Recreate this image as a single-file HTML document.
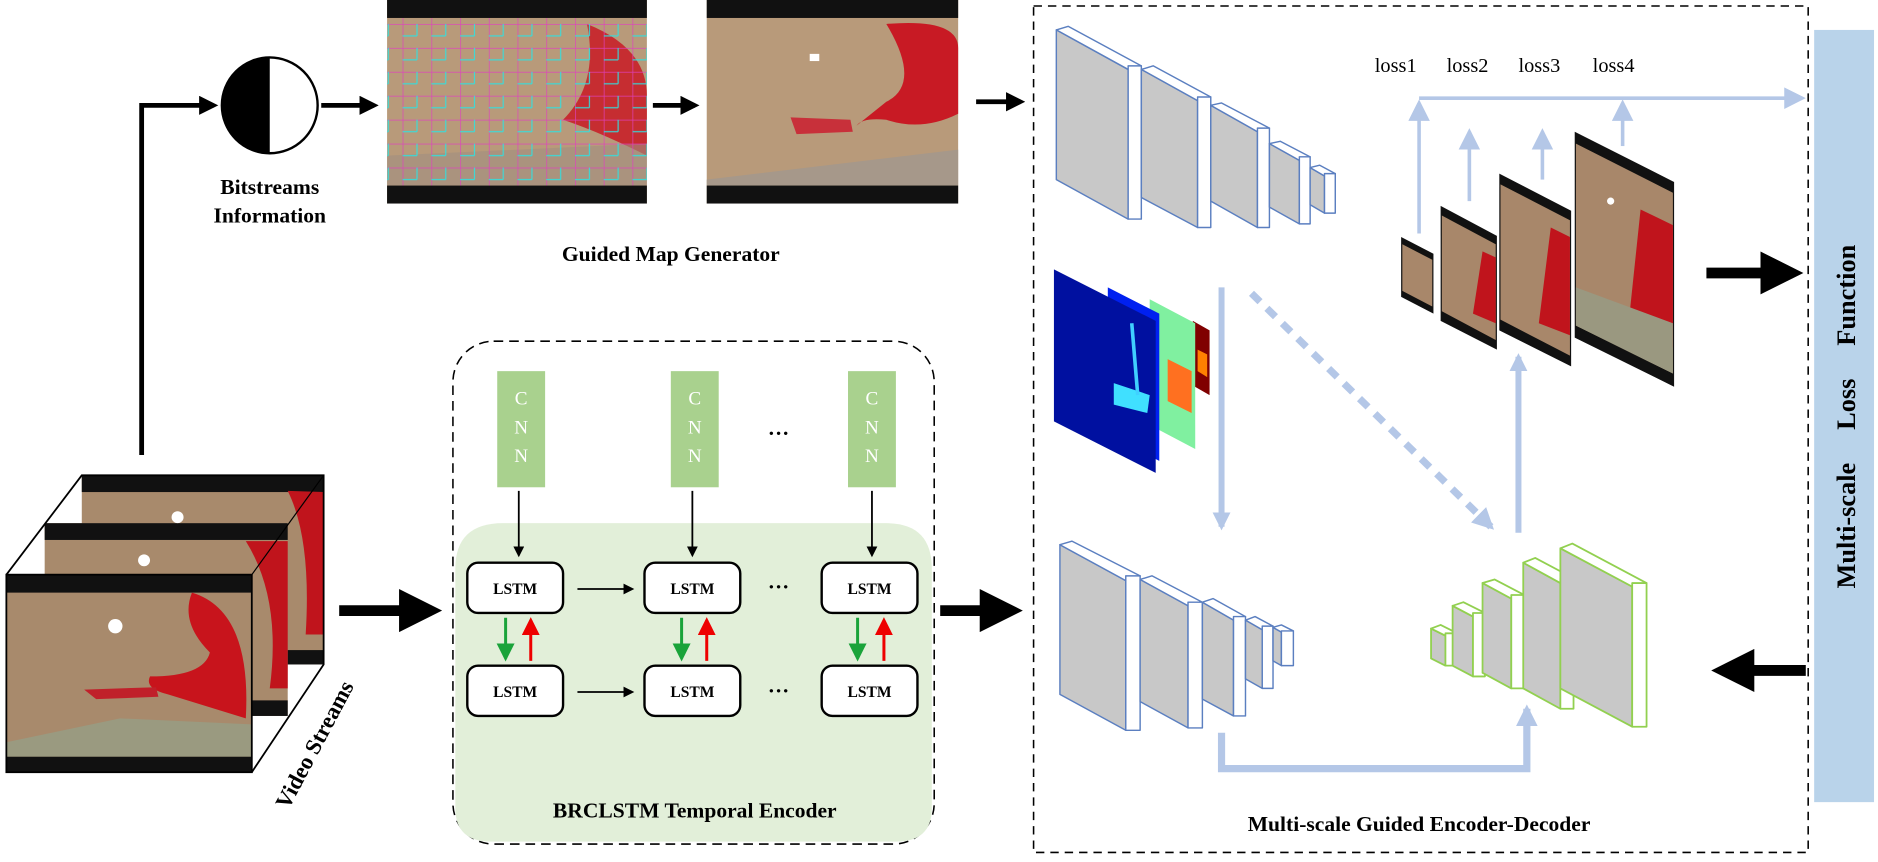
<!DOCTYPE html>
<html><head><meta charset="utf-8"><style>
html,body{margin:0;padding:0;background:#fff;}
svg{display:block;}
text{font-family:"Liberation Serif",serif;}
</style></head><body>
<svg width="1878" height="862" viewBox="0 0 1568 720" xmlns="http://www.w3.org/2000/svg">
<defs>
<marker id="ah" markerWidth="4" markerHeight="4" refX="3" refY="2" orient="auto" markerUnits="strokeWidth"><path d="M0,0 L4,2 L0,4 z" fill="#000"/></marker>
<marker id="ahs" markerWidth="6" markerHeight="6" refX="5" refY="3" orient="auto" markerUnits="strokeWidth"><path d="M0,0 L6,3 L0,6 z" fill="#000"/></marker>
<marker id="ahg" markerWidth="6" markerHeight="6" refX="5" refY="3" orient="auto" markerUnits="strokeWidth"><path d="M0,0 L6,3 L0,6 z" fill="#1aa33a"/></marker>
<marker id="ahr" markerWidth="6" markerHeight="6" refX="5" refY="3" orient="auto" markerUnits="strokeWidth"><path d="M0,0 L6,3 L0,6 z" fill="#e00"/></marker>
<marker id="ahb" markerWidth="3" markerHeight="3" refX="2.4" refY="1.5" orient="auto" markerUnits="strokeWidth"><path d="M0,0 L3,1.5 L0,3 z" fill="#b4c7e7"/></marker>
<marker id="ahb2" markerWidth="6" markerHeight="6" refX="5" refY="3" orient="auto" markerUnits="strokeWidth"><path d="M0,0 L6,3 L0,6 z" fill="#b4c7e7"/></marker>
<pattern id="grid" width="24" height="20" patternUnits="userSpaceOnUse"><path d="M0,0 H24 M0,0 V20" stroke="#e040c0" stroke-width="1.2"/><path d="M12,0 V10 M0,10 H12" stroke="#30e0e0" stroke-width="1"/></pattern>
</defs>

<!-- Video streams -->
<g>
<rect x="68" y="397" width="202" height="158" fill="#a88a6c"/>
<rect x="68" y="397" width="202" height="14" fill="#111"/>
<rect x="68" y="543" width="202" height="12" fill="#111"/>
<path d="M240,410 Q260,450 255,530 L270,530 L270,411 z" fill="#c0141c"/>
<rect x="37" y="437" width="203" height="161" fill="#a88a6c"/>
<rect x="37" y="437" width="203" height="14" fill="#111"/>
<rect x="37" y="585" width="203" height="13" fill="#111"/>
<path d="M205,452 Q235,500 225,575 L240,575 L240,452 z" fill="#c0141c"/>
<circle cx="120" cy="468" r="5" fill="#fff"/>
<circle cx="148" cy="432" r="5" fill="#fff"/>
<rect x="5" y="480" width="205" height="165" fill="#a88a6c"/>
<rect x="5" y="480" width="205" height="15" fill="#111"/>
<rect x="5" y="632" width="205" height="13" fill="#111"/>
<path d="M160,495 Q210,510 205,600 L140,580 Q120,575 125,565 Q170,565 175,545 Q150,520 160,495 z" fill="#c8141c"/>
<path d="M70,576 L130,574 L132,582 L80,584 z" fill="#c0202a"/>
<path d="M5,620 L100,600 L210,605 L210,632 L5,632 z" fill="#9a9a80"/>
<circle cx="96" cy="523" r="6" fill="#fff"/>
<polyline points="5,480 68,397 270,397 270,555 210,645" fill="none" stroke="#000" stroke-width="1.5"/>
<line x1="210" y1="480" x2="270" y2="397" stroke="#000" stroke-width="1"/>
<rect x="5" y="480" width="205" height="165" fill="none" stroke="#000" stroke-width="1.5"/>
<text transform="translate(268,625) rotate(-62)" text-anchor="middle" font-size="19" font-weight="bold">Video Streams</text>
</g>

<!-- bitstream arrow -->
<polyline points="118,380 118,88 178,88" fill="none" stroke="#000" stroke-width="4" marker-end="url(#ah)"/>
<circle cx="225" cy="88" r="40" fill="#fff" stroke="#000" stroke-width="2"/>
<path d="M225,48 A40,40 0 0 0 225,128 z" fill="#000"/>
<text x="225" y="162" text-anchor="middle" font-size="18" font-weight="bold">Bitstreams</text>
<text x="225" y="186" text-anchor="middle" font-size="18" font-weight="bold">Information</text>
<line x1="268" y1="88" x2="312" y2="88" stroke="#000" stroke-width="4" marker-end="url(#ah)"/>

<!-- image 1 -->
<rect x="323" y="0" width="217" height="170" fill="#b89a7a"/>
<path d="M490,20 Q540,40 540,80 L540,130 Q500,110 470,100 Q500,70 490,20 z" fill="#c81a24" opacity="0.85"/>
<path d="M323,130 L540,120 L540,155 L323,155 z" fill="#a09080" opacity="0.6"/>
<rect x="323" y="15" width="217" height="140" fill="url(#grid)" opacity="0.9"/>
<rect x="323" y="0" width="217" height="15" fill="#111"/>
<rect x="323" y="155" width="217" height="15" fill="#111"/>
<line x1="545" y1="88" x2="580" y2="88" stroke="#000" stroke-width="4" marker-end="url(#ah)"/>
<!-- image 2 -->
<rect x="590" y="0" width="210" height="170" fill="#b89a7a"/>
<path d="M740,20 Q800,15 800,40 L800,95 Q770,110 740,100 Q720,98 715,105 L740,85 Q770,70 740,20 z" fill="#c81a24"/>
<path d="M660,98 L710,100 L712,110 L665,112 z" fill="#c8303a"/>
<path d="M590,150 L800,125 L800,155 L590,155 z" fill="#a6988a"/>
<rect x="676" y="45" width="8" height="6" fill="#fff"/>
<rect x="590" y="0" width="210" height="15" fill="#111"/>
<rect x="590" y="155" width="210" height="15" fill="#111"/>
<text x="560" y="218" text-anchor="middle" font-size="18" font-weight="bold">Guided Map Generator</text>
<line x1="815" y1="85" x2="852" y2="85" stroke="#000" stroke-width="4" marker-end="url(#ah)"/>

<!-- BRCLSTM -->
<rect x="378" y="285" width="402" height="420" rx="34" fill="none" stroke="#000" stroke-width="1.3" stroke-dasharray="8,5"/>
<path d="M380,475 Q380,437 420,437 L740,437 Q778,437 778,475 L778,675 Q778,703 748,703 L410,703 Q380,703 380,675 z" fill="#e2efd9"/>
<g font-size="16" fill="#fff" text-anchor="middle">
<rect x="415" y="310" width="40" height="97" fill="#a9d18e"/>
<text x="435" y="338">C</text><text x="435" y="362">N</text><text x="435" y="386">N</text>
<rect x="560" y="310" width="40" height="97" fill="#a9d18e"/>
<text x="580" y="338">C</text><text x="580" y="362">N</text><text x="580" y="386">N</text>
<rect x="708" y="310" width="40" height="97" fill="#a9d18e"/>
<text x="728" y="338">C</text><text x="728" y="362">N</text><text x="728" y="386">N</text>
</g>
<text x="650" y="368" text-anchor="middle" font-size="18" font-weight="bold">···</text>
<g stroke="#000" stroke-width="1.5">
<line x1="433" y1="410" x2="433" y2="464" marker-end="url(#ahs)"/>
<line x1="578" y1="410" x2="578" y2="464" marker-end="url(#ahs)"/>
<line x1="728" y1="410" x2="728" y2="464" marker-end="url(#ahs)"/>
<line x1="482" y1="492" x2="528" y2="492" marker-end="url(#ahs)"/>
<line x1="482" y1="578" x2="528" y2="578" marker-end="url(#ahs)"/>
</g>
<g fill="#fff" stroke="#000" stroke-width="2">
<rect x="390" y="470" width="80" height="42" rx="9"/>
<rect x="538" y="470" width="80" height="42" rx="9"/>
<rect x="686" y="470" width="80" height="42" rx="9"/>
<rect x="390" y="556" width="80" height="42" rx="9"/>
<rect x="538" y="556" width="80" height="42" rx="9"/>
<rect x="686" y="556" width="80" height="42" rx="9"/>
</g>
<g font-size="13" font-weight="bold" text-anchor="middle">
<text x="430" y="496">LSTM</text><text x="578" y="496">LSTM</text><text x="726" y="496">LSTM</text>
<text x="430" y="582">LSTM</text><text x="578" y="582">LSTM</text><text x="726" y="582">LSTM</text>
</g>
<g font-size="18" font-weight="bold" text-anchor="middle"><text x="650" y="496">···</text><text x="650" y="583">···</text></g>
<g stroke-width="2.5">
<line x1="422" y1="516" x2="422" y2="550" stroke="#1aa33a" marker-end="url(#ahg)"/>
<line x1="443" y1="552" x2="443" y2="518" stroke="#e00" marker-end="url(#ahr)"/>
<line x1="569" y1="516" x2="569" y2="550" stroke="#1aa33a" marker-end="url(#ahg)"/>
<line x1="590" y1="552" x2="590" y2="518" stroke="#e00" marker-end="url(#ahr)"/>
<line x1="716" y1="516" x2="716" y2="550" stroke="#1aa33a" marker-end="url(#ahg)"/>
<line x1="738" y1="552" x2="738" y2="518" stroke="#e00" marker-end="url(#ahr)"/>
</g>
<text x="580" y="683" text-anchor="middle" font-size="18" font-weight="bold">BRCLSTM Temporal Encoder</text>
<line x1="283" y1="510" x2="360" y2="510" stroke="#000" stroke-width="9" marker-end="url(#ah)"/>
<line x1="785" y1="510" x2="845" y2="510" stroke="#000" stroke-width="9" marker-end="url(#ah)"/>

<!-- Encoder-decoder box -->
<rect x="863" y="5" width="647" height="707" fill="none" stroke="#000" stroke-width="1.3" stroke-dasharray="7,5"/>
<g stroke="#5b7fc0" stroke-width="1.2" stroke-linejoin="round">
<polygon points="882,25 942,58 942,183 882,150" fill="#c8c8c8"/><polygon points="882,25 892,22 953,55 942,58" fill="#fff"/><rect x="942" y="55" width="11" height="128" fill="#fff"/>
<polygon points="953,58 1000,84 1000,190 953,165" fill="#c8c8c8"/><polygon points="953,58 963,55 1011,81 1000,84" fill="#fff"/><rect x="1000" y="81" width="11" height="109" fill="#fff"/>
<polygon points="1011,88 1050,110 1050,190 1011,168" fill="#c8c8c8"/><polygon points="1011,88 1020,86 1060,107 1050,110" fill="#fff"/><rect x="1050" y="107" width="10" height="83" fill="#fff"/>
<polygon points="1060,120 1085,134 1085,187 1060,173" fill="#c8c8c8"/><polygon points="1060,120 1069,118 1094,131 1085,134" fill="#fff"/><rect x="1085" y="131" width="9" height="56" fill="#fff"/>
<polygon points="1094,140 1106,147 1106,178 1094,171" fill="#c8c8c8"/><polygon points="1094,140 1102,138 1115,145 1106,147" fill="#fff"/><rect x="1106" y="145" width="9" height="33" fill="#fff"/>
<polygon points="885,455 940,485 940,610 885,580" fill="#c8c8c8"/><polygon points="885,455 895,452 952,481 940,485" fill="#fff"/><rect x="940" y="481" width="12" height="129" fill="#fff"/>
<polygon points="952,484 992,506 992,608 952,586" fill="#c8c8c8"/><polygon points="952,484 962,481 1004,503 992,506" fill="#fff"/><rect x="992" y="503" width="12" height="105" fill="#fff"/>
<polygon points="1004,503 1030,518 1030,598 1004,584" fill="#c8c8c8"/><polygon points="1004,503 1013,500 1040,515 1030,518" fill="#fff"/><rect x="1030" y="515" width="10" height="83" fill="#fff"/>
<polygon points="1040,518 1054,526 1054,575 1040,567" fill="#c8c8c8"/><polygon points="1040,518 1048,515 1063,523 1054,526" fill="#fff"/><rect x="1054" y="523" width="9" height="52" fill="#fff"/>
<polygon points="1063,524 1070,528 1070,556 1063,552" fill="#c8c8c8"/><polygon points="1063,524 1070,522 1080,527 1070,528" fill="#fff"/><rect x="1070" y="527" width="10" height="29" fill="#fff"/>
</g>
<g stroke="#92d050" stroke-width="1.5" stroke-linejoin="round">
<polygon points="1195,525 1207,531 1207,556 1195,550" fill="#c8c8c8"/><polygon points="1195,525 1203,522 1217,529 1207,531" fill="#fff"/><rect x="1207" y="529" width="10" height="27" fill="#fff"/>
<polygon points="1213,506 1230,515 1230,565 1213,556" fill="#c8c8c8"/><polygon points="1213,506 1222,503 1240,512 1230,515" fill="#fff"/><rect x="1230" y="512" width="10" height="53" fill="#fff"/>
<polygon points="1238,487 1262,500 1262,575 1238,562" fill="#c8c8c8"/><polygon points="1238,487 1248,484 1273,497 1262,500" fill="#fff"/><rect x="1262" y="497" width="11" height="78" fill="#fff"/>
<polygon points="1272,470 1303,487 1303,592 1272,575" fill="#c8c8c8"/><polygon points="1272,470 1282,466 1314,483 1303,487" fill="#fff"/><rect x="1303" y="483" width="11" height="109" fill="#fff"/>
<polygon points="1303,458 1363,490 1363,607 1303,575" fill="#c8c8c8"/><polygon points="1303,458 1313,454 1375,487 1363,490" fill="#fff"/><rect x="1363" y="487" width="12" height="120" fill="#fff"/>
</g>
<!-- heatmaps -->
<polygon points="996,268 1010,276 1010,330 996,322" fill="#800000"/>
<polygon points="1000,292 1008,296 1008,315 1000,310" fill="#ff8000"/>
<polygon points="960,250 998,270 998,375 960,355" fill="#80f0a0"/>
<polygon points="975,300 995,310 995,345 975,335" fill="#ff7020"/>
<polygon points="925,240 968,262 968,385 925,363" fill="#0020f0"/>
<polygon points="880,225 965,268 965,395 880,352" fill="#0010a0"/>
<polygon points="930,320 960,330 958,345 930,338" fill="#40e0ff"/>
<line x1="945" y1="270" x2="950" y2="330" stroke="#40d0ff" stroke-width="3"/>

<!-- light blue arrows -->
<line x1="1020" y1="240" x2="1020" y2="440" stroke="#b4c7e7" stroke-width="5" marker-end="url(#ahb)"/>
<line x1="1045" y1="245" x2="1245" y2="440" stroke="#b4c7e7" stroke-width="6" stroke-dasharray="10,8" marker-end="url(#ahb)"/>
<line x1="1268" y1="445" x2="1268" y2="298" stroke="#b4c7e7" stroke-width="5" marker-end="url(#ahb)"/>
<polyline points="1020,612 1020,642 1275,642 1275,592" fill="none" stroke="#b4c7e7" stroke-width="6" marker-end="url(#ahb)"/>
<g stroke="#b4c7e7" stroke-width="3">
<line x1="1185" y1="195" x2="1185" y2="86" marker-end="url(#ahb2)"/>
<line x1="1227" y1="168" x2="1227" y2="110" marker-end="url(#ahb2)"/>
<line x1="1288" y1="150" x2="1288" y2="110" marker-end="url(#ahb2)"/>
<line x1="1355" y1="122" x2="1355" y2="86" marker-end="url(#ahb2)"/>
<line x1="1185" y1="82" x2="1505" y2="82" marker-end="url(#ahb2)"/>
</g>
<g font-size="17"><text x="1148" y="60">loss1</text><text x="1208" y="60">loss2</text><text x="1268" y="60">loss3</text><text x="1330" y="60">loss4</text></g>
<!-- output pyramid -->
<g>
<polygon points="1170,198 1197,212 1197,262 1170,248" fill="#111"/><polygon points="1171,204 1196,217 1196,256 1171,243" fill="#a8876a"/>
<polygon points="1203,172 1250,197 1250,292 1203,268" fill="#111"/><polygon points="1204,180 1249,204 1249,284 1204,260" fill="#a8876a"/><polygon points="1238,210 1249,215 1249,270 1230,262" fill="#c0141c"/>
<polygon points="1252,145 1312,176 1312,306 1252,276" fill="#111"/><polygon points="1253,154 1311,184 1311,297 1253,267" fill="#a8876a"/><polygon points="1295,190 1311,198 1311,280 1285,270" fill="#c0141c"/>
<polygon points="1315,110 1398,152 1398,323 1315,282" fill="#111"/><polygon points="1316,120 1397,161 1397,312 1316,272" fill="#a8876a"/><polygon points="1370,175 1397,188 1397,290 1360,270" fill="#c0141c"/><polygon points="1316,240 1397,270 1397,312 1316,272" fill="#9a9880"/>
<circle cx="1345" cy="168" r="3" fill="#fff"/>
</g>
<text x="1185" y="694" text-anchor="middle" font-size="18" font-weight="bold">Multi-scale Guided Encoder-Decoder</text>

<!-- loss bar -->
<rect x="1515" y="25" width="50" height="645" fill="#b9d3ea"/>
<text transform="translate(1549,348) rotate(-90)" text-anchor="middle" font-size="22" font-weight="bold" word-spacing="22">Multi-scale Loss Function</text>
<line x1="1425" y1="228" x2="1497" y2="228" stroke="#000" stroke-width="9" marker-end="url(#ah)"/>
<line x1="1508" y1="560" x2="1438" y2="560" stroke="#000" stroke-width="9" marker-end="url(#ah)"/>
</svg>
</body></html>
